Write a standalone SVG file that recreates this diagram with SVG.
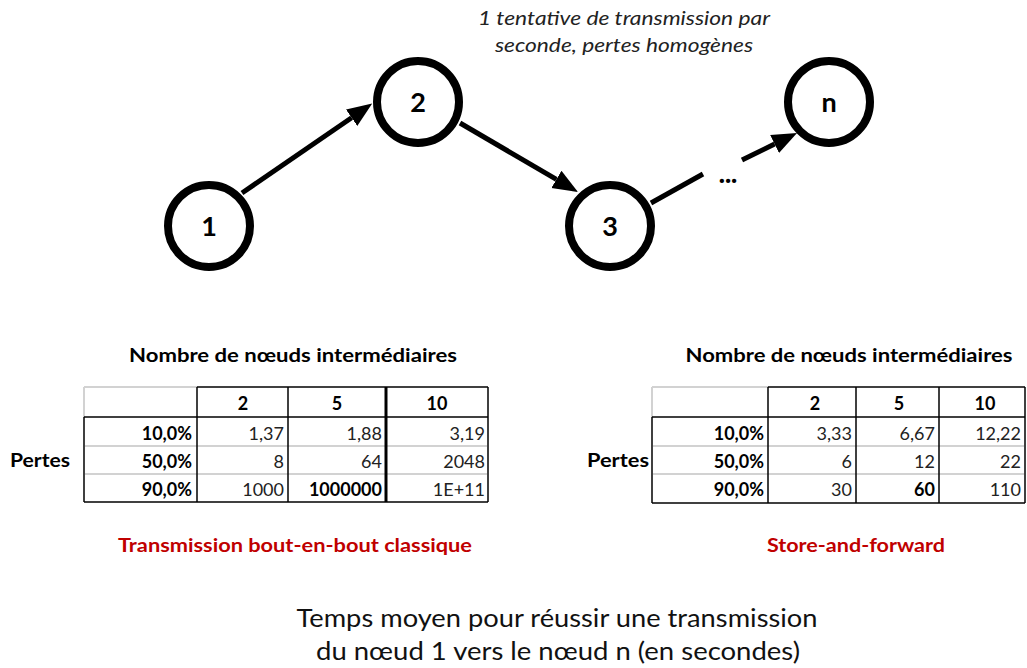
<svg xmlns="http://www.w3.org/2000/svg" width="1027" height="668" viewBox="0 0 1027 668">
<style>
  text { font-family: Lato, "Open Sans", "Liberation Sans", sans-serif; fill: #000; }
  .node circle { fill: #fff; stroke: #000; stroke-width: 8; }
  .nlabel { font-size: 27px; font-weight: bold; text-anchor: middle; }
  .edge { stroke: #000; stroke-width: 5; fill: none; marker-end: url(#ah); }
  .plain { stroke: #000; stroke-width: 5; fill: none; }
  .note { font-size: 20px; font-style: italic; fill: #222; }
  .head { font-size: 19px; font-weight: bold; }
  .red { font-size: 19px; font-weight: bold; fill: #C00000; }
  .bottom { font-size: 25px; fill: #111; }
  .bl { stroke: #000; stroke-width: 1.5; }
  .bl3 { stroke: #000; stroke-width: 3; }
  .gl { stroke: #d2d2d2; stroke-width: 2; }
  .th { font-size: 18px; font-weight: bold; text-anchor: middle; }
  .pc { font-size: 18px; font-weight: bold; text-anchor: end; }
  .num { font-size: 18px; text-anchor: end; fill: #222; }
  .numb { font-size: 18px; font-weight: bold; text-anchor: end; }
</style>
<defs>
  <marker id="ah" markerUnits="userSpaceOnUse" markerWidth="26" markerHeight="22" refX="0" refY="11" orient="auto">
    <path d="M0,1 L25,11 L0,21 z" fill="#000"/>
  </marker>
</defs>

<text class="note" x="624" y="25" text-anchor="middle" textLength="292" lengthAdjust="spacingAndGlyphs">1 tentative de transmission par</text>
<text class="note" x="624" y="52" text-anchor="middle" textLength="258" lengthAdjust="spacingAndGlyphs">seconde, pertes homogènes</text>

<g id="connectors">
  <line class="edge" x1="242" y1="193" x2="351.6" y2="117.7"/>
  <line class="edge" x1="460" y1="123" x2="556.4" y2="179.4"/>
  <line class="plain" x1="651" y1="203" x2="703" y2="174"/>
  <line class="edge" x1="742" y1="160" x2="774.6" y2="144"/>
  <text x="728" y="183" text-anchor="middle" font-size="26" font-weight="900">...</text>
</g>

<g id="node1" class="node"><circle cx="209" cy="226" r="41"/><text class="nlabel" x="209" y="236">1</text></g>
<g id="node2" class="node"><circle cx="418" cy="102" r="41"/><text class="nlabel" x="418" y="112">2</text></g>
<g id="node3" class="node"><circle cx="610" cy="226" r="41"/><text class="nlabel" x="610" y="236">3</text></g>
<g id="noden" class="node"><circle cx="829" cy="102" r="41"/><text class="nlabel" x="829" y="112">n</text></g>

<g id="table1">
  <text class="head" x="293" y="362" text-anchor="middle" textLength="328" lengthAdjust="spacingAndGlyphs">Nombre de nœuds intermédiaires</text>
  <text class="head" x="10" y="467" textLength="60" lengthAdjust="spacingAndGlyphs">Pertes</text>
  <line class="gl" x1="84" y1="387" x2="197" y2="387"/>
  <line class="gl" x1="84" y1="387" x2="84" y2="417"/>
  <line class="gl" x1="85" y1="446" x2="487" y2="446"/>
  <line class="gl" x1="85" y1="474" x2="487" y2="474"/>
  <line class="bl" x1="197" y1="387" x2="488" y2="387"/>
  <line class="bl" x1="84" y1="417" x2="488" y2="417"/>
  <line class="bl" x1="84" y1="502" x2="488" y2="502"/>
  <line class="bl" x1="84" y1="417" x2="84" y2="502"/>
  <line class="bl" x1="197" y1="387" x2="197" y2="502"/>
  <line class="bl" x1="288" y1="387" x2="288" y2="502"/>
  <line class="bl3" x1="386" y1="387" x2="386" y2="502"/>
  <line class="bl" x1="488" y1="387" x2="488" y2="502"/>
  <text class="th" x="243" y="410">2</text>
  <text class="th" x="337" y="410">5</text>
  <text class="th" x="437" y="410">10</text>
  <text class="pc" x="192" y="440">10,0%</text>
  <text class="pc" x="192" y="468">50,0%</text>
  <text class="pc" x="192" y="496">90,0%</text>
  <text class="num" x="284" y="440">1,37</text>
  <text class="num" x="382" y="440">1,88</text>
  <text class="num" x="485" y="440">3,19</text>
  <text class="num" x="284" y="468">8</text>
  <text class="num" x="382" y="468">64</text>
  <text class="num" x="485" y="468">2048</text>
  <text class="num" x="284" y="496">1000</text>
  <text class="numb" x="382" y="496">1000000</text>
  <text class="num" x="485" y="496">1E+11</text>
  <text class="red" x="295" y="552" text-anchor="middle" textLength="354" lengthAdjust="spacingAndGlyphs">Transmission bout-en-bout classique</text>
</g>

<g id="table2">
  <text class="head" x="849" y="362" text-anchor="middle" textLength="327" lengthAdjust="spacingAndGlyphs">Nombre de nœuds intermédiaires</text>
  <text class="head" x="587" y="467" textLength="62" lengthAdjust="spacingAndGlyphs">Pertes</text>
  <line class="gl" x1="652" y1="387" x2="768" y2="387"/>
  <line class="gl" x1="652" y1="387" x2="652" y2="417"/>
  <line class="gl" x1="653" y1="446" x2="1024" y2="446"/>
  <line class="gl" x1="653" y1="474" x2="1024" y2="474"/>
  <line class="bl" x1="768" y1="387" x2="1025" y2="387"/>
  <line class="bl" x1="652" y1="417" x2="1025" y2="417"/>
  <line class="bl" x1="652" y1="503" x2="1025" y2="503"/>
  <line class="bl" x1="652" y1="417" x2="652" y2="503"/>
  <line class="bl" x1="768" y1="387" x2="768" y2="503"/>
  <line class="bl" x1="856" y1="387" x2="856" y2="503"/>
  <line class="bl" x1="939" y1="387" x2="939" y2="503"/>
  <line class="bl" x1="1025" y1="387" x2="1025" y2="503"/>
  <text class="th" x="815" y="410">2</text>
  <text class="th" x="899" y="410">5</text>
  <text class="th" x="985" y="410">10</text>
  <text class="pc" x="764" y="440">10,0%</text>
  <text class="pc" x="764" y="468">50,0%</text>
  <text class="pc" x="764" y="496">90,0%</text>
  <text class="num" x="852" y="440">3,33</text>
  <text class="num" x="935" y="440">6,67</text>
  <text class="num" x="1021" y="440">12,22</text>
  <text class="num" x="852" y="468">6</text>
  <text class="num" x="935" y="468">12</text>
  <text class="num" x="1021" y="468">22</text>
  <text class="num" x="852" y="496">30</text>
  <text class="numb" x="935" y="496">60</text>
  <text class="num" x="1021" y="496">110</text>
  <text class="red" x="856" y="552" text-anchor="middle" textLength="178" lengthAdjust="spacingAndGlyphs">Store-and-forward</text>
</g>

<text class="bottom" x="557" y="627" text-anchor="middle" textLength="521" lengthAdjust="spacingAndGlyphs">Temps moyen pour réussir une transmission</text>
<text class="bottom" x="558" y="660" text-anchor="middle" textLength="484" lengthAdjust="spacingAndGlyphs">du nœud 1 vers le nœud n (en secondes)</text>
</svg>
